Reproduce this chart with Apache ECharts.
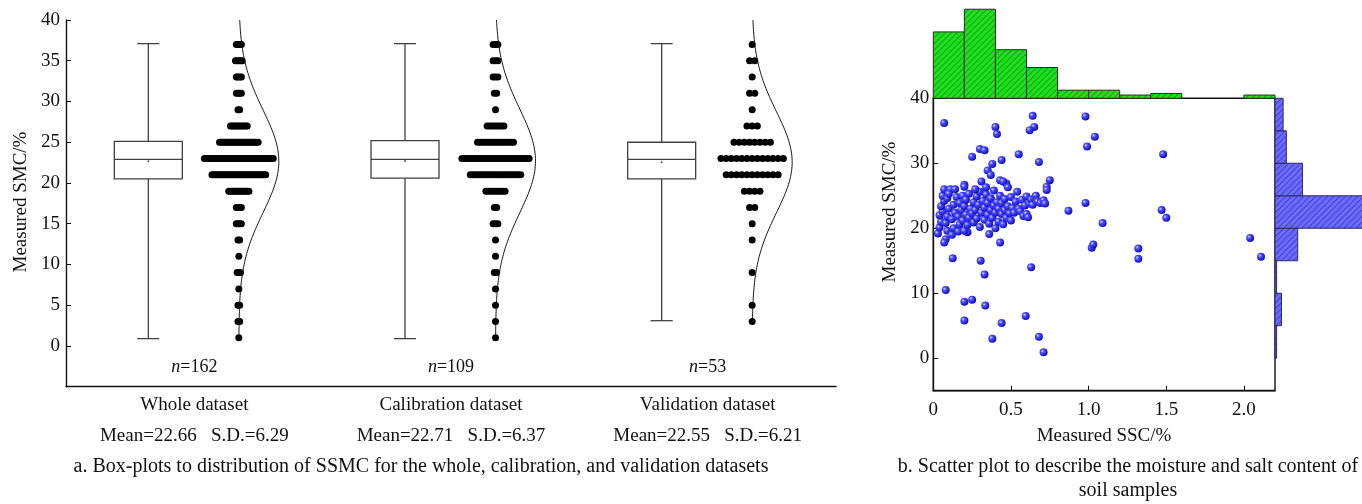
<!DOCTYPE html>
<html><head><meta charset="utf-8">
<script src="https://cdn.jsdelivr.net/npm/echarts@6/dist/echarts.min.js"></script>
<style>html,body{margin:0;padding:0;background:#fff}#c{width:1362px;height:504px}</style>
</head><body><div id="c"></div>
<script>
// ---------- data ----------
const categories = ['Whole dataset', 'Calibration dataset', 'Validation dataset'];
const sampleCounts = [162, 109, 53];
const means = [22.66, 22.71, 22.55];
const sds = [6.29, 6.37, 6.21];
const boxMin = [0.9, 0.9, 3.1];
const boxQ1 = [20.5, 20.6, 20.5];
const boxMedian = [22.9, 22.9, 22.9];
const boxQ3 = [25.1, 25.2, 25.0];
const boxMax = [37.1, 37.1, 37.1];

const dotLevels = [37, 35, 33, 31, 29, 27, 25, 23, 21, 19, 17, 15, 13, 11, 9, 7, 5, 3, 1];
const wholeCounts = [4, 5, 4, 4, 2, 11, 24, 42, 33, 13, 4, 4, 2, 1, 3, 1, 2, 2, 1];
const calibCounts = [3, 3, 3, 2, 1, 8, 16, 29, 22, 9, 2, 3, 1, 1, 2, 1, 1, 1, 1];
const validCounts = [1, 2, 1, 2, 1, 3, 8, 13, 11, 4, 2, 1, 1, 0, 1, 0, 1, 1, 0];

const leftTicks = [0, 5, 10, 15, 20, 25, 30, 35, 40];
const sscTicks = [0, 0.5, 1.0, 1.5, 2.0];
const smcTicks = [0, 10, 20, 30, 40];

// scatter: [SSC %, SMC %]
const scatterPoints = [
  [0.07,36.2],[0.40,35.6],[0.41,34.5],[0.64,37.3],[0.65,35.6],[0.62,35.1],[0.98,37.2],[1.04,34.1],[0.99,32.6],[1.48,31.4],
  [0.25,31.0],[0.30,32.2],[0.33,32.0],[0.38,29.9],[0.44,30.5],[0.55,31.4],[0.68,30.2],[0.35,28.9],[0.37,28.2],[0.31,27.2],
  [0.43,27.4],[0.47,26.9],[0.45,27.2],[0.75,27.4],[0.73,26.4],[0.20,26.7],
  [0.87,22.7],[0.98,23.9],[1.09,20.8],[1.02,17.0],[1.03,17.5],[1.32,16.9],[1.32,15.3],[1.47,22.8],[1.50,21.6],[2.04,18.5],[2.11,15.6],
  [0.43,17.8],[0.36,19.1],[0.22,19.4],[0.125,15.4],[0.305,15.0],[0.33,12.9],[0.63,14.0],[0.08,10.5],[0.20,8.7],[0.25,9.0],[0.335,8.1],
  [0.20,5.8],[0.44,5.4],[0.595,6.5],[0.38,3.0],[0.68,3.3],[0.71,0.9],
  [0.03,19.2],[0.04,20.1],[0.05,21.0],[0.04,22.0],[0.06,22.6],[0.05,23.4],[0.07,24.2],[0.06,25.0],[0.07,26.0],[0.08,18.3],
  [0.07,17.8],[0.09,19.6],[0.08,20.8],[0.09,21.8],[0.10,23.0],[0.09,24.6],[0.11,26.0],[0.10,25.3],
  [0.12,19.0],[0.13,20.0],[0.12,21.4],[0.14,22.4],[0.13,23.6],[0.14,26.0],[0.15,24.8],[0.16,19.5],[0.17,20.6],[0.16,21.8],
  [0.18,22.8],[0.17,23.9],[0.19,21.2],[0.19,25.0],[0.20,26.4],[0.20,19.6],[0.21,22.1],[0.20,23.4],[0.21,24.4],
  [0.22,20.5],[0.23,21.6],[0.24,23.0],[0.23,25.3],[0.25,22.3],[0.26,24.0],[0.26,20.9],[0.27,22.8],[0.28,24.9],[0.28,21.5],
  [0.29,23.6],[0.30,20.2],[0.30,25.6],[0.31,22.4],[0.27,26.0],
  [0.32,24.2],[0.33,21.3],[0.33,23.2],[0.34,25.2],[0.35,22.1],[0.35,23.9],[0.36,20.7],[0.37,24.6],[0.37,22.8],[0.38,21.6],
  [0.39,23.5],[0.39,25.8],[0.40,20.0],[0.40,22.4],[0.34,26.3],
  [0.41,24.0],[0.42,21.0],[0.42,23.0],[0.43,25.0],[0.44,22.2],[0.44,23.9],[0.45,20.6],[0.46,24.5],[0.46,22.8],[0.47,21.6],
  [0.48,23.4],[0.48,26.3],[0.49,22.3],[0.50,21.2],[0.50,24.8],
  [0.51,23.1],[0.52,22.4],[0.53,24.1],[0.54,25.6],[0.55,23.0],[0.56,22.6],[0.57,24.4],[0.58,21.9],[0.59,23.5],[0.60,24.9],[0.60,22.2],
  [0.61,21.7],[0.62,23.8],[0.63,24.4],[0.64,23.6],[0.65,24.6],[0.66,25.0],[0.67,24.1],[0.69,23.9],[0.71,24.3],[0.72,23.8],[0.73,25.9]
];

// marginal histograms
const sscBinEdges = [0, 0.2, 0.4, 0.6, 0.8, 1.0, 1.2, 1.4, 1.6, 1.8, 2.0, 2.2];
const sscBinCounts = [41, 55, 30, 19, 5, 5, 2, 3, 0, 0, 2];
const smcBinEdges = [0, 5, 10, 15, 20, 25, 30, 35, 40];
const smcBinCounts = [1, 4, 1, 14, 115, 17, 7, 5];

// ---------- styles ----------
const FONT = "'Liberation Serif', 'Times New Roman', serif";
const BOX_OFFSET = -46, DOT_OFFSET = 44.5;
const dotSpacing = [1.68, 2.4, 5.2];
const CURVE_AMP = 40;

function hatch(base, line) {
  const c = document.createElement('canvas');
  c.width = 6; c.height = 6;
  const g = c.getContext('2d');
  g.fillStyle = base; g.fillRect(0, 0, 6, 6);
  g.strokeStyle = line; g.lineWidth = 1.1;
  g.beginPath();
  g.moveTo(0, 6); g.lineTo(6, 0);
  g.moveTo(-1, 1); g.lineTo(1, -1);
  g.moveTo(5, 7); g.lineTo(7, 5);
  g.stroke();
  return c;
}
const greenPat = { image: hatch('#1fe01f', '#13a813'), repeat: 'repeat' };
const bluePat = { image: hatch('#6b6bff', '#4545d0'), repeat: 'repeat' };

const chart = echarts.init(document.getElementById('c'), null, { renderer: 'canvas' });

const boxData = categories.map((c, i) => [i, boxMin[i], boxQ1[i], boxMedian[i], boxQ3[i], boxMax[i], means[i]]);
const dotData = [];
[wholeCounts, calibCounts, validCounts].forEach((arr, ci) => {
  dotLevels.forEach((lv, k) => dotData.push([ci, lv, arr[k]]));
});
const curveData = categories.map((c, i) => [i, means[i], sds[i], boxMin[i]]);
const nData = categories.map((c, i) => [i, -2.6, sampleCounts[i]]);
const sscHist = sscBinCounts.map((v, i) => [sscBinEdges[i], sscBinEdges[i + 1], v]);
const smcHist = smcBinCounts.map((v, i) => [smcBinEdges[i], smcBinEdges[i + 1], v]);

const tickLabel = { fontFamily: FONT, fontSize: 19, color: '#111' };

const option = {
  animation: false,
  backgroundColor: '#fff',
  grid: [
    { left: 66, top: 20, width: 770, bottom: 117.3 },
    { left: 933.3, right: 87, top: 98.3, bottom: 113.3, show: true, borderColor: '#111', borderWidth: 1.4, backgroundColor: 'transparent' },
    { left: 933.3, right: 87, top: 0, bottom: 405.7 },
    { left: 1275, right: 0, top: 98.3, bottom: 113.3 }
  ],
  xAxis: [
    {
      gridIndex: 0, type: 'category', data: categories, boundaryGap: true,
      axisLine: { onZero: false, lineStyle: { color: '#111', width: 1.4 } },
      axisTick: { alignWithLabel: true, inside: true, length: 5, lineStyle: { color: '#111' } },
      axisLabel: {
        fontFamily: FONT, fontSize: 19, color: '#111', margin: 3, lineHeight: 31, interval: 0,
        formatter: (v, idx) => v + '\n{s|Mean=' + means[idx].toFixed(2) + '   S.D.=' + sds[idx].toFixed(2) + '}',
        rich: { s: { fontFamily: FONT, fontSize: 19, color: '#111', lineHeight: 31 } }
      },
      splitLine: { show: false }
    },
    {
      gridIndex: 1, type: 'value', min: 0, max: 2.2,
      axisLine: { onZero: false, lineStyle: { color: '#111', width: 1.4 } },
      axisTick: { inside: true, length: 5, customValues: sscTicks, lineStyle: { color: '#111' } },
      axisLabel: { ...tickLabel, margin: 10, customValues: sscTicks, formatter: v => v === 0 ? '0' : v.toFixed(1) },
      splitLine: { show: false }
    },
    { gridIndex: 2, type: 'value', min: 0, max: 2.2, show: false },
    { gridIndex: 3, type: 'value', min: 0, max: 53.7, show: false }
  ],
  yAxis: [
    {
      gridIndex: 0, type: 'value', min: -5, max: 40,
      axisLine: { show: true, onZero: false, lineStyle: { color: '#111', width: 1.4 } },
      axisTick: { show: true, inside: true, length: 5, customValues: leftTicks, lineStyle: { color: '#111' } },
      axisLabel: { ...tickLabel, margin: 6, customValues: leftTicks },
      splitLine: { show: false }
    },
    {
      gridIndex: 1, type: 'value', min: -5, max: 40,
      axisLine: { show: true, onZero: false, lineStyle: { color: '#111', width: 1.4 } },
      axisTick: { show: true, inside: true, length: 5, customValues: smcTicks, lineStyle: { color: '#111' } },
      axisLabel: { ...tickLabel, margin: 4, customValues: smcTicks },
      splitLine: { show: false }
    },
    { gridIndex: 2, type: 'value', min: 0, max: 60.7, show: false },
    { gridIndex: 3, type: 'value', min: -5, max: 40, show: false }
  ],
  series: [
    {
      type: 'custom', name: 'box', xAxisIndex: 0, yAxisIndex: 0, data: boxData, z: 3,
      renderItem: (params, api) => {
        const i = api.value(0);
        const cx = api.coord([i, api.value(3)])[0] + BOX_OFFSET;
        const y = k => api.coord([i, api.value(k)])[1];
        const half = 34, cap = 11;
        const ls = { stroke: '#404040', lineWidth: 1.3 };
        return {
          type: 'group', children: [
            { type: 'line', shape: { x1: cx, y1: y(5), x2: cx, y2: y(4) }, style: ls },
            { type: 'line', shape: { x1: cx, y1: y(2), x2: cx, y2: y(1) }, style: ls },
            { type: 'line', shape: { x1: cx - cap, y1: y(5), x2: cx + cap, y2: y(5) }, style: ls },
            { type: 'line', shape: { x1: cx - cap, y1: y(1), x2: cx + cap, y2: y(1) }, style: ls },
            { type: 'rect', shape: { x: cx - half, y: y(4), width: 2 * half, height: y(2) - y(4) }, style: { fill: '#fff', stroke: '#404040', lineWidth: 1.3 } },
            { type: 'line', shape: { x1: cx - half, y1: y(3), x2: cx + half, y2: y(3) }, style: ls },
            { type: 'circle', shape: { cx: cx, cy: y(6), r: 1 }, style: { fill: '#555' } }
          ]
        };
      }
    },
    {
      type: 'custom', name: 'dots', xAxisIndex: 0, yAxisIndex: 0, data: dotData, z: 3,
      renderItem: (params, api) => {
        const ci = api.value(0), n = api.value(2);
        if (!n) return null;
        const p = api.coord([ci, api.value(1)]);
        const cx = p[0] + DOT_OFFSET, sp = dotSpacing[ci];
        const children = [];
        for (let j = 0; j < n; j++) {
          children.push({ type: 'circle', shape: { cx: cx + (j - (n - 1) / 2) * sp, cy: p[1], r: 3.5 }, style: { fill: '#000' } });
        }
        return { type: 'group', children };
      }
    },
    {
      type: 'custom', name: 'normal', xAxisIndex: 0, yAxisIndex: 0, data: curveData, z: 4,
      renderItem: (params, api) => {
        const i = api.value(0), m = api.value(1), s = api.value(2), lo = api.value(3);
        const pts = [];
        for (let v = 40; v >= lo - 1e-9; v -= 0.2) {
          const p = api.coord([i, v]);
          pts.push([p[0] + DOT_OFFSET + CURVE_AMP * Math.exp(-0.5 * Math.pow((v - m) / s, 2)), p[1]]);
        }
        return { type: 'polyline', shape: { points: pts }, style: { stroke: '#111', lineWidth: 1, fill: null } };
      }
    },
    {
      type: 'custom', name: 'n', xAxisIndex: 0, yAxisIndex: 0, data: nData, z: 4,
      renderItem: (params, api) => {
        const p = api.coord([api.value(0), api.value(1)]);
        return {
          type: 'text', x: p[0], y: p[1],
          style: {
            text: '{i|n}=' + api.value(2), align: 'center', verticalAlign: 'middle',
            font: '18px ' + FONT, fill: '#111',
            rich: { i: { fontStyle: 'italic', fontFamily: FONT, fontSize: 18 } }
          }
        };
      }
    },
    {
      type: 'scatter', name: 'samples', xAxisIndex: 1, yAxisIndex: 1, data: scatterPoints, symbolSize: 8, z: 5,
      itemStyle: {
        color: { type: 'radial', x: 0.35, y: 0.35, r: 0.7, colorStops: [
          { offset: 0, color: '#dcdcff' }, { offset: 0.3, color: '#5050ff' }, { offset: 0.75, color: '#2020d8' }, { offset: 1, color: '#101088' }] },
        opacity: 1
      }
    },
    {
      type: 'custom', name: 'sscHist', xAxisIndex: 2, yAxisIndex: 2, data: sscHist, z: 2,
      renderItem: (params, api) => {
        if (!api.value(2)) return null;
        const a = api.coord([api.value(0), api.value(2)]);
        const b = api.coord([api.value(1), 0]);
        return { type: 'rect', shape: { x: a[0], y: a[1], width: b[0] - a[0], height: b[1] - a[1] }, style: { fill: greenPat, stroke: '#2a2a2a', lineWidth: 1 } };
      }
    },
    {
      type: 'custom', name: 'smcHist', xAxisIndex: 3, yAxisIndex: 3, data: smcHist, z: 2,
      renderItem: (params, api) => {
        if (!api.value(2)) return null;
        const a = api.coord([api.value(2), api.value(1)]);
        const b = api.coord([0, api.value(0)]);
        const r = echarts.graphic.clipRectByRect({ x: b[0], y: a[1], width: a[0] - b[0], height: b[1] - a[1] }, {
          x: params.coordSys.x, y: params.coordSys.y, width: params.coordSys.width + 2, height: params.coordSys.height });
        if (!r) return null;
        return { type: 'rect', shape: r, style: { fill: bluePat, stroke: '#2a2a5a', lineWidth: 1 } };
      }
    }
  ],
  graphic: [
    { type: 'text', x: 21, y: 202, rotation: Math.PI / 2, style: { text: 'Measured SMC/%', font: '19px ' + FONT, fill: '#111', align: 'center', verticalAlign: 'middle' } },
    { type: 'text', x: 890, y: 212, rotation: Math.PI / 2, style: { text: 'Measured SMC/%', font: '19px ' + FONT, fill: '#111', align: 'center', verticalAlign: 'middle' } },
    { type: 'text', x: 1104, y: 436, style: { text: 'Measured SSC/%', font: '19px ' + FONT, fill: '#111', align: 'center', verticalAlign: 'middle' } },
    { type: 'text', x: 421, y: 467, style: { text: 'a. Box-plots to distribution of SSMC for the whole, calibration, and validation datasets', font: '20px ' + FONT, fill: '#111', align: 'center', verticalAlign: 'middle' } },
    { type: 'text', x: 1128, y: 467, style: { text: 'b. Scatter plot to describe the moisture and salt content of', font: '20px ' + FONT, fill: '#111', align: 'center', verticalAlign: 'middle' } },
    { type: 'text', x: 1128, y: 491, style: { text: 'soil samples', font: '20px ' + FONT, fill: '#111', align: 'center', verticalAlign: 'middle' } }
  ]
};
chart.setOption(option);
</script>
</body></html>
